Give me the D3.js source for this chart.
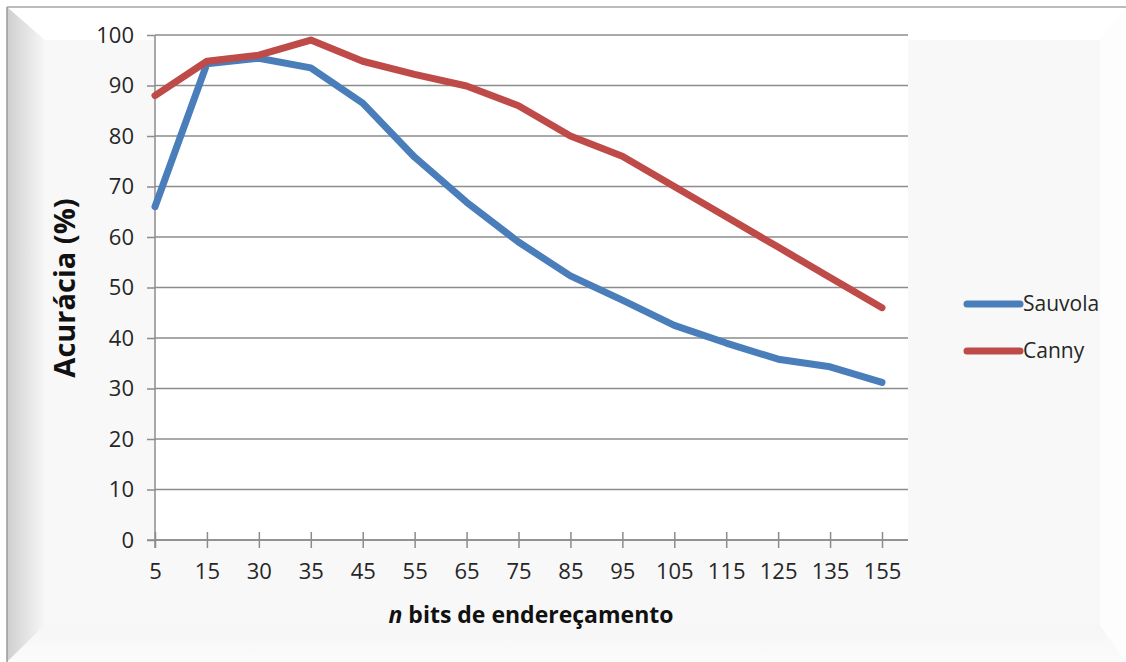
<!DOCTYPE html>
<html>
<head>
<meta charset="utf-8">
<script src="https://cdn.jsdelivr.net/npm/d3@7"></script>
<style>
  body { margin: 0; background: #ffffff; }
  svg { display: block; font-family: 'Open Sans', 'Noto Sans', sans-serif; }
</style>
</head>
<body>
<svg></svg>
<script>
// data
let categories = ['5', '15', '30', '35', '45', '55', '65', '75', '85', '95', '105', '115', '125', '135', '155'];
let sauvola = [66, 94.3, 95.4, 93.5, 86.5, 75.8, 66.9, 59, 52.3, 47.5, 42.5, 39, 35.8, 34.3, 31.2];
let canny = [88, 94.8, 96, 99, 94.8, 92.2, 89.9, 86, 80, 76, 70, 64, 58, 52, 46];
let yTicks = [0, 10, 20, 30, 40, 50, 60, 70, 80, 90, 100];
let seriesNames = ['Sauvola', 'Canny'];
let seriesColors = ['#4a7ebb', '#be4b48'];

let width = 1126, height = 662;
let plotLeft = 155, plotRight = 908, plotTop = 35, plotBottom = 540;
let svg = d3.select('svg').attr('width', width).attr('height', height);

// beveled background panel
let drawFrame = () => {
    let defs = svg.append('defs');
    let lg = defs.append('linearGradient').attr('id', 'leftBevel')
        .attr('x1', 0).attr('x2', 1).attr('y1', 0).attr('y2', 0);
    lg.append('stop').attr('offset', 0).attr('stop-color', '#cfcfcf');
    lg.append('stop').attr('offset', 1).attr('stop-color', '#f7f7f7');
    let bg = defs.append('linearGradient').attr('id', 'bottomBevel')
        .attr('x1', 0).attr('x2', 0).attr('y1', 0).attr('y2', 1);
    bg.append('stop').attr('offset', 0).attr('stop-color', '#f6f6f6');
    bg.append('stop').attr('offset', 1).attr('stop-color', '#fbfbfb');

    let x0 = 7, y0 = 7, x1 = 1126, y1 = 662, ix0 = 45, iy0 = 40, ix1 = 1100, iy1 = 625;
    svg.append('rect').attr('x', ix0).attr('y', iy0).attr('width', ix1 - ix0).attr('height', iy1 - iy0).attr('fill', '#f8f8f8');
    let poly = (pts, fill) => svg.append('polygon').attr('points', pts.map(p => p.join(',')).join(' ')).attr('fill', fill);
    poly([[x0, y0], [x1, y0], [ix1, iy0], [ix0, iy0]], '#ffffff');
    poly([[x0, y0], [ix0, iy0], [ix0, iy1], [x0, y1]], 'url(#leftBevel)');
    poly([[x0, y1], [ix0, iy1], [ix1, iy1], [x1, y1]], 'url(#bottomBevel)');
    poly([[ix1, iy0], [x1, y0], [x1, y1], [ix1, iy1]], '#fdfdfd');
    svg.append('line').attr('x1', x0).attr('x2', x1).attr('y1', y0).attr('y2', y0)
        .attr('stroke', '#a6a6a6').attr('stroke-width', 1.5);
    svg.append('line').attr('x1', x0).attr('x2', x0).attr('y1', y0).attr('y2', y1)
        .attr('stroke', '#9a9a9a').attr('stroke-width', 1.5);

    svg.append('rect').attr('x', plotLeft).attr('y', plotTop)
        .attr('width', plotRight - plotLeft).attr('height', plotBottom - plotTop).attr('fill', '#ffffff');
};

let xScale = d3.scalePoint().domain(categories).range([plotLeft, 882]);
let yScale = d3.scaleLinear().domain([0, 100]).range([plotBottom, plotTop]);

let drawGridAndAxes = () => {
    svg.append('g').selectAll('line').data(yTicks).enter().append('line')
        .attr('x1', plotLeft).attr('x2', plotRight)
        .attr('y1', d => yScale(d)).attr('y2', d => yScale(d))
        .attr('stroke', '#8c8c8c').attr('stroke-width', 1.5);

    let yAxis = svg.append('g').attr('transform', `translate(${plotLeft},0)`)
        .call(d3.axisLeft(yScale).tickValues(yTicks).tickSize(8).tickPadding(13));
    yAxis.select('.domain').remove();
    yAxis.selectAll('line').attr('stroke', '#8c8c8c').attr('stroke-width', 1.5);
    yAxis.selectAll('text').attr('font-size', 22).attr('fill', '#262626')
        .attr('font-family', "'Open Sans', sans-serif");

    let xAxis = svg.append('g').attr('transform', `translate(0,${plotBottom})`)
        .call(d3.axisBottom(xScale).tickSize(8).tickPadding(15));
    xAxis.select('.domain').remove();
    xAxis.selectAll('line').attr('y1', -8).attr('stroke', '#8c8c8c').attr('stroke-width', 1.5);
    xAxis.selectAll('text').attr('font-size', 22).attr('fill', '#262626')
        .attr('font-family', "'Open Sans', sans-serif");

    svg.append('line').attr('x1', plotLeft).attr('x2', plotLeft)
        .attr('y1', plotTop).attr('y2', plotBottom + 8)
        .attr('stroke', '#8c8c8c').attr('stroke-width', 1.5);
    svg.append('line').attr('x1', plotLeft - 8).attr('x2', plotRight)
        .attr('y1', plotBottom).attr('y2', plotBottom)
        .attr('stroke', '#8c8c8c').attr('stroke-width', 1.5);
};

let drawLines = () => {
    let line = d3.line().x((d, i) => xScale(categories[i])).y(d => yScale(d));
    [sauvola, canny].forEach((values, k) => {
        svg.append('path').datum(values).attr('d', line)
            .attr('fill', 'none').attr('stroke', seriesColors[k])
            .attr('stroke-width', 7).attr('stroke-linejoin', 'round').attr('stroke-linecap', 'round');
    });
};

let drawLabels = () => {
    svg.append('text').attr('transform', 'translate(75,288) rotate(-90)')
        .attr('text-anchor', 'middle').attr('font-size', 29).attr('font-weight', 'bold')
        .attr('fill', '#111').text('Acurácia (%)');

    let xt = svg.append('text').attr('x', 531).attr('y', 623)
        .attr('text-anchor', 'middle').attr('font-size', 23).attr('font-weight', 'bold').attr('fill', '#111');
    xt.append('tspan').attr('font-style', 'italic').text('n');
    xt.append('tspan').text(' bits de endereçamento');

    let legend = svg.append('g').selectAll('g').data(seriesNames).enter().append('g')
        .attr('transform', (d, i) => `translate(0,${304 + i * 47})`);
    legend.append('line').attr('x1', 967).attr('x2', 1020)
        .attr('stroke', (d, i) => seriesColors[i]).attr('stroke-width', 7).attr('stroke-linecap', 'round');
    legend.append('text').attr('x', 1023).attr('dy', '0.35em')
        .attr('font-size', 21).attr('fill', '#262626').text(d => d);
};

drawFrame();
drawGridAndAxes();
drawLines();
drawLabels();
</script>
</body>
</html>
